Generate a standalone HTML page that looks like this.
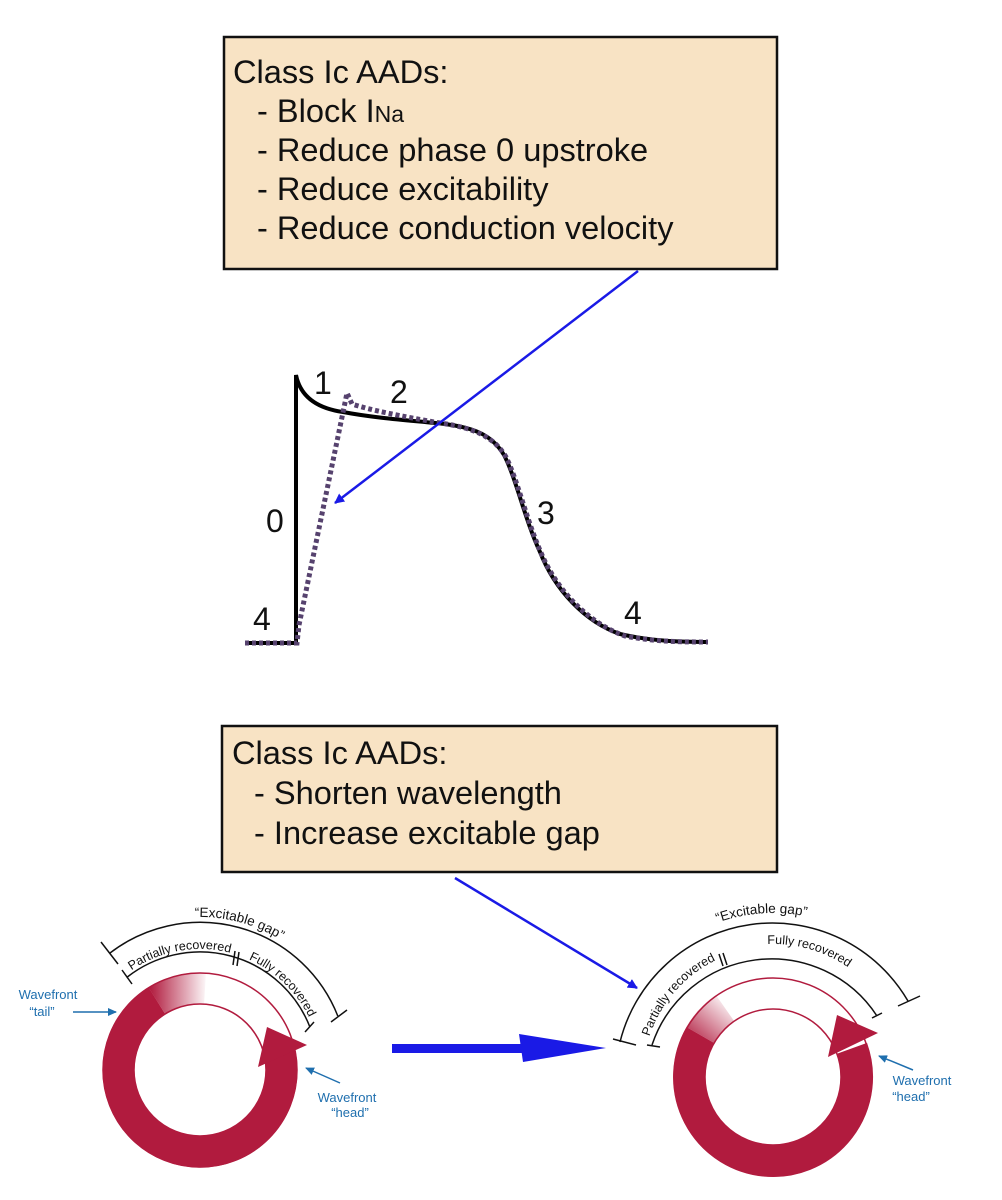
<!DOCTYPE html>
<html><head><meta charset="utf-8"><style>
html,body{margin:0;padding:0;background:#fff;}
svg{display:block;}
text{font-family:"Liberation Sans",Arial,sans-serif;}
</style></head><body>
<svg width="1002" height="1200" viewBox="0 0 1002 1200" xmlns="http://www.w3.org/2000/svg">
<defs>
<marker id="ah" markerWidth="10" markerHeight="10" refX="9" refY="5" orient="auto" markerUnits="userSpaceOnUse"><path d="M0,0 L10,5 L0,10 z" fill="#1a1ae6"/></marker>
<marker id="ah2" markerWidth="9" markerHeight="8" refX="8" refY="4" orient="auto" markerUnits="userSpaceOnUse"><path d="M0,0 L9,4 L0,8 z" fill="#1f6fae"/></marker>
<linearGradient id="gL" gradientUnits="userSpaceOnUse" x1="150" y1="1000" x2="208" y2="1000"><stop offset="0" stop-color="#b11b3e"/><stop offset="1" stop-color="#b11b3e" stop-opacity="0"/></linearGradient>
<linearGradient id="gR" gradientUnits="userSpaceOnUse" x1="690" y1="1045" x2="730" y2="1000"><stop offset="0" stop-color="#b11b3e"/><stop offset="1" stop-color="#b11b3e" stop-opacity="0"/></linearGradient>
<path id="tL1" d="M 112.2 944.7 A 153 153 0 0 1 338.7 1005.3"/>
<path id="tL2" d="M 95.2 1009.5 A 121 121 0 0 1 277.8 977.3"/>
<path id="tL3" d="M 187.4 949.7 A 121 121 0 0 1 320.7 1078.4"/>
<path id="tR1" d="M 640.3 980.6 A 164 164 0 0 1 890.9 963.0"/>
<path id="tR2" d="M 644.6 1097.3 A 130 130 0 0 1 775.3 947.0"/>
<path id="tR3" d="M 698.6 966.7 A 133 133 0 0 1 894.5 1022.9"/>
</defs>

<!-- Box 1 -->
<rect x="224" y="37" width="553" height="232" fill="#f8e3c4" stroke="#111" stroke-width="2.5"/>
<g font-size="32.6" fill="#111">
<text x="233" y="83">Class Ic AADs:</text>
<text x="257" y="122">- Block I<tspan font-size="23">Na</tspan></text>
<text x="257" y="161">- Reduce phase 0 upstroke</text>
<text x="257" y="200">- Reduce excitability</text>
<text x="257" y="239">- Reduce conduction velocity</text>
</g>

<!-- Action potential -->
<path d="M245,643 L296,643 L296,375 C300,395 315,408 343,412 C380,419 420,421 445,424 C475,428 492,435 504,455 C516,478 525,520 540,552 C555,590 585,622 620,634 C650,641 680,642 708,642" fill="none" stroke="#000" stroke-width="4"/>
<path d="M245,643 L297,643 L299,625 L347,393 L352,404 C370,410 400,416 440,423 C475,428 494,437 506,457 C518,481 527,522 542,555 C558,592 590,624 625,636 C655,642 685,642 708,642" fill="none" stroke="#56426e" stroke-width="5" stroke-dasharray="4,3"/>
<g font-size="32" fill="#111">
<text x="314" y="394">1</text>
<text x="390" y="403">2</text>
<text x="266" y="532">0</text>
<text x="537" y="524">3</text>
<text x="253" y="630">4</text>
<text x="624" y="624">4</text>
</g>
<line x1="638" y1="271" x2="335" y2="503" stroke="#1a1ae6" stroke-width="2.5" marker-end="url(#ah)"/>

<!-- Box 2 -->
<rect x="222" y="726" width="555" height="146" fill="#f8e3c4" stroke="#111" stroke-width="2.5"/>
<g font-size="32.6" fill="#111">
<text x="232" y="764">Class Ic AADs:</text>
<text x="254" y="804">- Shorten wavelength</text>
<text x="254" y="844">- Increase excitable gap</text>
</g>
<line x1="455" y1="878" x2="637" y2="988" stroke="#1a1ae6" stroke-width="2.5" marker-end="url(#ah)"/>

<!-- big arrow -->
<rect x="392" y="1044" width="132" height="9" fill="#1a1ae6"/>
<path d="M519,1034 L606,1048 L523,1062 Z" fill="#1a1ae6"/>

<!-- Left circle -->
<g>
<circle cx="200" cy="1070" r="97" fill="none" stroke="#b11b3e" stroke-width="1.5"/>
<circle cx="200" cy="1070" r="66" fill="none" stroke="#b11b3e" stroke-width="1.5"/>
<path d="M 279.4 1051.7 A 81.5 81.5 0 1 1 157 1000.9" fill="none" stroke="#b11b3e" stroke-width="32"/>
<path d="M 157 1000.9 A 81.5 81.5 0 0 1 205 988.6" fill="none" stroke="url(#gL)" stroke-width="32"/>
<path d="M267,1027 L307,1045 L258,1067 Z" fill="#b11b3e"/>
<path d="M 109.6 953.3 A 148 148 0 0 1 337.8 1016" fill="none" stroke="#111" stroke-width="1.5"/>
<line x1="101" y1="942" x2="118" y2="964" stroke="#111" stroke-width="1.5"/>
<line x1="331" y1="1022" x2="347" y2="1010" stroke="#111" stroke-width="1.5"/>
<path d="M 127.3 977 A 118 118 0 0 1 309.9 1027" fill="none" stroke="#111" stroke-width="1.5"/>
<line x1="122" y1="970" x2="132" y2="984" stroke="#111" stroke-width="1.5"/>
<line x1="305" y1="1032" x2="314" y2="1022" stroke="#111" stroke-width="1.5"/>
<line x1="235" y1="951" x2="233" y2="965" stroke="#111" stroke-width="1.5"/>
<line x1="239" y1="952" x2="237" y2="966" stroke="#111" stroke-width="1.5"/>
<text font-size="13.5" fill="#111" text-anchor="middle"><textPath href="#tL1" startOffset="50%">“Excitable gap”</textPath></text>
<text font-size="12.5" fill="#111" text-anchor="middle"><textPath href="#tL2" startOffset="50%">Partially recovered</textPath></text>
<text font-size="12.5" fill="#111" text-anchor="middle"><textPath href="#tL3" startOffset="50%">Fully recovered</textPath></text>
<g font-size="13" fill="#1f6fae" text-anchor="middle">
<text x="48" y="999">Wavefront</text>
<text x="42" y="1016">“tail”</text>
<text x="347" y="1102">Wavefront</text>
<text x="350" y="1117">“head”</text>
</g>
<line x1="73" y1="1012" x2="116" y2="1012" stroke="#1f6fae" stroke-width="1.5" marker-end="url(#ah2)"/>
<line x1="340" y1="1083" x2="306" y2="1068" stroke="#1f6fae" stroke-width="1.5" marker-end="url(#ah2)"/>
</g>

<!-- Right circle -->
<g>
<circle cx="773" cy="1077" r="99" fill="none" stroke="#b11b3e" stroke-width="1.5"/>
<circle cx="773" cy="1077" r="68" fill="none" stroke="#b11b3e" stroke-width="1.5"/>
<path d="M 852 1048.3 A 84 84 0 1 1 700.3 1035" fill="none" stroke="#b11b3e" stroke-width="32"/>
<path d="M 700.3 1035 A 84 84 0 0 1 725 1008" fill="none" stroke="url(#gR)" stroke-width="32"/>
<path d="M837,1015 L878,1033 L828,1057 Z" fill="#b11b3e"/>
<path d="M 620 1042 A 157 157 0 0 1 908 1001" fill="none" stroke="#111" stroke-width="1.5"/>
<line x1="613" y1="1039" x2="636" y2="1045" stroke="#111" stroke-width="1.5"/>
<line x1="898" y1="1006" x2="920" y2="996" stroke="#111" stroke-width="1.5"/>
<path d="M 652 1045 A 126 126 0 0 1 877 1016" fill="none" stroke="#111" stroke-width="1.5"/>
<line x1="647" y1="1045" x2="660" y2="1047" stroke="#111" stroke-width="1.5"/>
<line x1="872" y1="1018" x2="882" y2="1013" stroke="#111" stroke-width="1.5"/>
<line x1="719" y1="954" x2="723" y2="966" stroke="#111" stroke-width="1.5"/>
<line x1="723" y1="953" x2="727" y2="965" stroke="#111" stroke-width="1.5"/>
<text font-size="13.5" fill="#111" text-anchor="middle"><textPath href="#tR1" startOffset="50%">“Excitable gap”</textPath></text>
<text font-size="12.5" fill="#111" text-anchor="middle"><textPath href="#tR2" startOffset="50%">Partially recovered</textPath></text>
<text font-size="12.5" fill="#111" text-anchor="middle"><textPath href="#tR3" startOffset="50%">Fully recovered</textPath></text>
<g font-size="13" fill="#1f6fae" text-anchor="middle">
<text x="922" y="1085">Wavefront</text>
<text x="911" y="1101">“head”</text>
</g>
<line x1="913" y1="1070" x2="879" y2="1056" stroke="#1f6fae" stroke-width="1.5" marker-end="url(#ah2)"/>
</g>
</svg>
</body></html>
